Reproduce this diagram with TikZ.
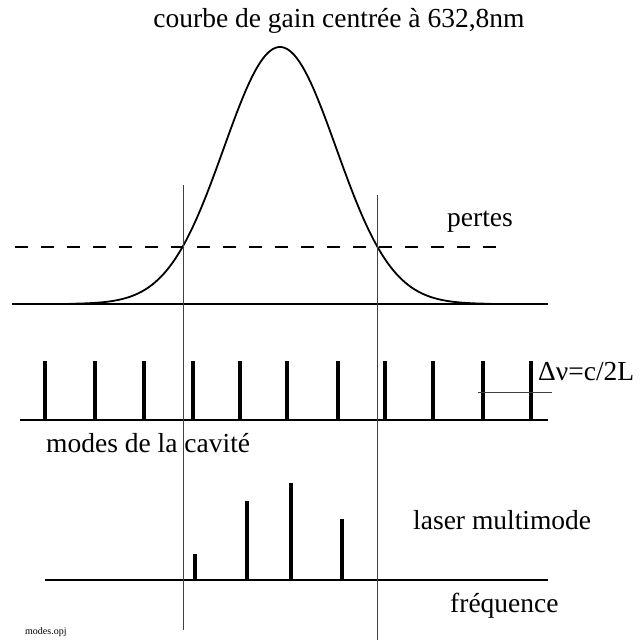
\documentclass[tikz,border=0pt]{standalone}
\usepackage{fontspec}
\setmainfont{Liberation Serif}
\usepackage{tikz}
\usetikzlibrary{positioning}

\begin{document}
\begin{tikzpicture}[x=1pt,y=-1pt,font=\fontsize{27.5}{32}\selectfont]
\tikzstyle{axe}=[line width=2pt]
\tikzstyle{raie}=[line width=3.6pt]
\tikzstyle{guide}=[line width=0.9pt,black!75]
\useasboundingbox (0,0) rectangle (644,643);
% courbe de gain
\draw[axe] (12,304) -- (548,304);
\draw[line width=1.8pt] plot[domain=70:490,samples=140,smooth]
  (\x,{304-257*exp(-0.5*((\x-280)/56.2)^2)});
\draw[line width=1.6pt,dash pattern=on 13pt off 13pt] (15,247) -- (506,247);
\node (gain) at (339,21) {courbe de gain centrée à 632,8nm};
\node (pertes) at (480,222) {pertes};
% modes de la cavite
\draw[axe] (20,420) -- (548,420);
\foreach \x in {45,95,144,193,240,287,338,385,433,483,531}
  \draw[raie] (\x,420) -- (\x,361);
\draw[guide] (478,392) -- (552,392);
\node[anchor=west,inner sep=0pt] (dnu) at (538,372) {Δν=c/2L};
\node[anchor=west,inner sep=0pt] (modes) at (46,443) {modes de la cavité};
% laser multimode
\draw[axe] (45,580) -- (548,580);
\draw[raie] (195,580) -- (195,554);
\draw[raie] (247,580) -- (247,501);
\draw[raie] (291,580) -- (291,483);
\draw[raie] (342,580) -- (342,519);
\node[anchor=west,inner sep=0pt] (laser) at (413,520) {laser multimode};
\node[anchor=west,inner sep=0pt] (freq) at (450,606) {fréquence};
% seuils
\draw[guide] (183,185) -- (183,630);
\draw[guide] (377,195) -- (377,640);
\node[anchor=west,inner sep=0pt,font=\fontsize{10}{12}\selectfont] (fich) at (25,632) {modes.opj};
\end{tikzpicture}
\end{document}
